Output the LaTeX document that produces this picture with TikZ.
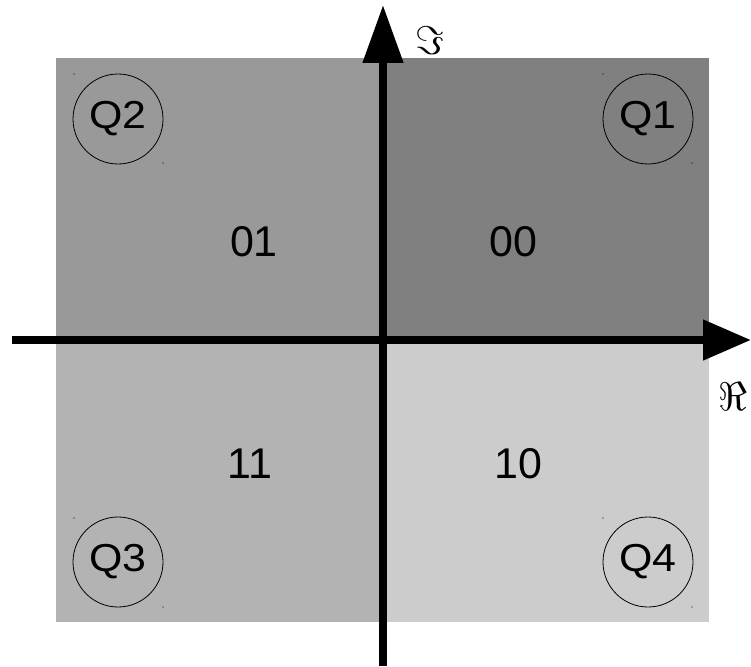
\documentclass[tikz,border=0pt]{standalone}
\usepackage{fontspec}
\setmainfont{Liberation Sans}
\usetikzlibrary{arrows.meta}
\definecolor{qone}{HTML}{808080}
\definecolor{qtwo}{HTML}{999999}
\definecolor{qthree}{HTML}{B3B3B3}
\definecolor{qfour}{HTML}{CCCCCC}
\newcommand{\qtext}[1]{\scalebox{1.1}[1]{#1}}
\tikzset{
  qlabel/.style={draw=black, line width=0.8pt, circle, minimum size=90pt, inner sep=0pt, font=\fontsize{39}{39}\selectfont},
  bits/.style={font=\fontsize{43}{43}\selectfont, inner sep=0pt},
  axis/.style={line width=8pt},
  axlabel/.style={inner sep=0pt},
  speck/.style={fill=black, circle, inner sep=0pt, minimum size=1.2pt}
}
\begin{document}
\begin{tikzpicture}[x=1pt,y=-1pt]
\useasboundingbox (0,0) rectangle (751,666);
\fill[qtwo] (56,58) rectangle (383,340);
\fill[qone] (383,58) rectangle (709,340);
\fill[qthree] (56,340) rectangle (383,622);
\fill[qfour] (383,340) rectangle (709,622);
% specks
\foreach \p in {(74,74),(163,163),(603,74),(692,163),(74,518),(163,607),(603,518),(692,607)} \node[speck] at \p {};
\node[qlabel] (q2) at (118,119) {\qtext{Q2}};
\node[qlabel] (q1) at (648,119) {\qtext{Q1}};
\node[qlabel] (q3) at (118,562) {\qtext{Q3}};
\node[qlabel] (q4) at (648,562) {\qtext{Q4}};
\node[bits] (b01) at (254,242) {01};
\node[bits] (b00) at (513,242) {00};
\node[bits] (b11) at (250,464) {11};
\node[bits] (b10) at (518,464) {10};
\coordinate (xs) at (12,340);
\coordinate (xe) at (751,340);
\coordinate (ys) at (383,666);
\coordinate (ye) at (383,5);
\draw[axis, -{Triangle[length=48pt,width=39pt]}] (xs) -- (xe);
\draw[axis, -{Triangle[length=58pt,width=39pt]}] (ys) -- (ye);
\node[axlabel] (im) at (430,41) {\scalebox{4}{$\Im$}};
\node[axlabel] (re) at (733,397) {\scalebox{4}{$\Re$}};
\end{tikzpicture}
\end{document}
